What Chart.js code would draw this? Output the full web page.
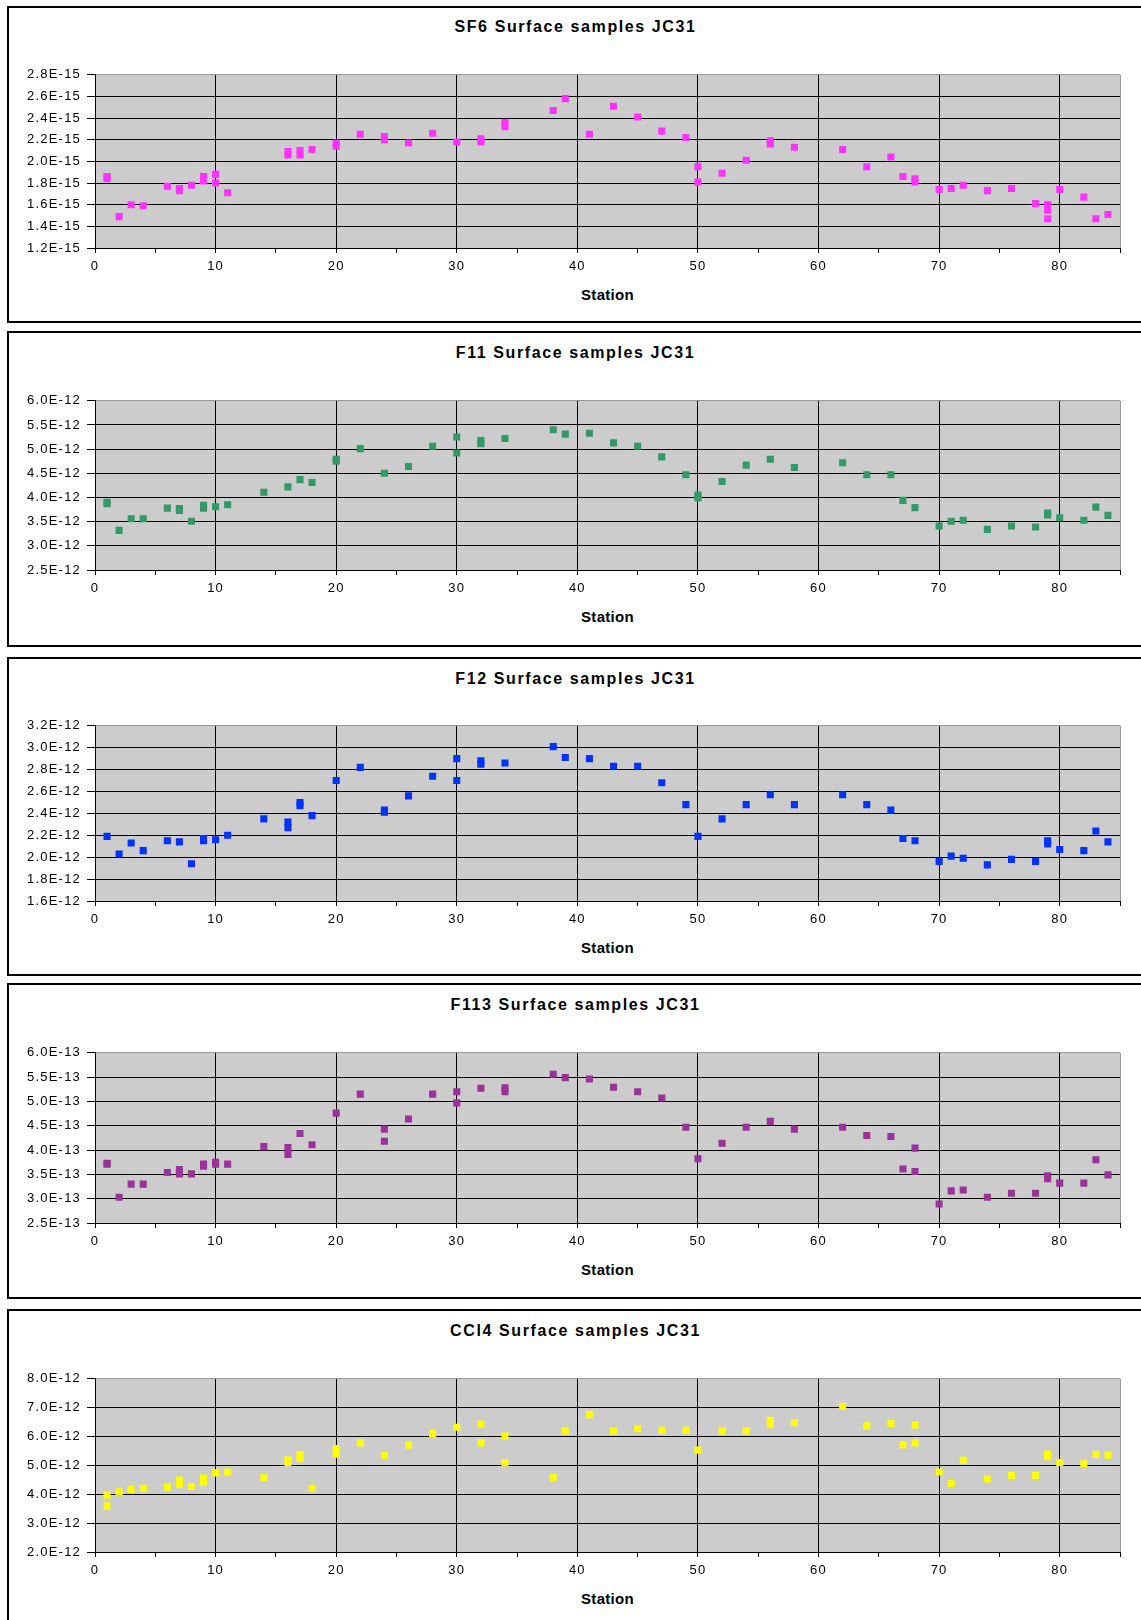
<!DOCTYPE html>
<html>
<head>
<meta charset="utf-8">
<script src="https://cdn.jsdelivr.net/npm/chart.js@4.4.1/dist/chart.umd.min.js"></script>
<style>
  html, body { margin: 0; padding: 0; background: #fff; }
  body { width: 1141px; height: 1620px; position: relative; overflow: hidden; font-family: "Liberation Sans", Arial, sans-serif; }
  .panel { position: absolute; left: 7px; width: 1200px; border: 2px solid #000; box-sizing: border-box; }
  .title { position: absolute; left: 0; width: 1151px; text-align: center; font-weight: bold; font-size: 16px; line-height: 18px; letter-spacing: 1.6px; color: #000; }
  .xlabel { position: absolute; left: 95px; width: 1025px; text-align: center; font-weight: bold; font-size: 15px; line-height: 18px; letter-spacing: 0.3px; color: #000; }
  canvas { position: absolute; left: 0; }
</style>
</head>
<body>
<script>
// ================= DATA =================
// x = station number, y = mantissa (unit shown in the axis suffix)
const sf6Stations = [1,1,2,3,4,6,7,7,8,9,9,10,10,11,16,16,17,17,18,20,20,22,24,24,26,28,30,32,32,34,34,38,39,
  41,43,45,47,49,50,50,52,54,56,56,58,62,64,66,67,68,68,70,71,72,74,76,78,79,79,79,80,82,83,84];
const sf6Values = [1.86,1.84,1.49,1.60,1.59,1.77,1.75,1.73,1.78,1.86,1.82,1.88,1.80,1.71,2.09,2.06,2.10,2.06,2.11,2.17,2.14,2.25,2.23,2.20,2.17,2.26,2.18,2.21,2.18,2.36,2.32,2.47,2.58,
  2.25,2.51,2.41,2.28,2.22,1.95,1.81,1.89,2.01,2.19,2.16,2.13,2.11,1.95,2.04,1.86,1.84,1.81,1.74,1.75,1.78,1.73,1.75,1.61,1.60,1.55,1.47,1.74,1.67,1.47,1.51];

const f11Stations = [1,1,2,3,4,6,7,7,8,9,9,10,11,14,16,17,18,20,20,22,24,26,28,30,30,32,32,34,38,39,
  41,43,45,47,49,50,50,52,54,56,58,62,64,66,67,68,70,71,72,74,76,78,79,79,80,82,83,84];
const f11Values = [3.90,3.87,3.32,3.56,3.56,3.78,3.77,3.73,3.51,3.84,3.78,3.81,3.85,4.11,4.22,4.37,4.31,4.79,4.75,5.01,4.50,4.64,5.06,5.25,4.92,5.18,5.11,5.22,5.40,5.31,
  5.33,5.13,5.06,4.84,4.47,4.05,3.99,4.33,4.67,4.79,4.62,4.72,4.47,4.47,3.94,3.79,3.41,3.51,3.53,3.34,3.41,3.39,3.68,3.64,3.58,3.53,3.80,3.63];

const f12Stations = [1,2,3,4,6,7,8,9,9,10,11,14,16,16,17,17,18,20,22,24,24,26,28,30,30,32,32,34,38,39,
  41,43,45,47,49,50,52,54,56,58,62,64,66,67,68,70,71,72,74,76,78,79,79,80,82,83,84];
const f12Values = [2.19,2.03,2.13,2.06,2.15,2.14,1.94,2.17,2.15,2.16,2.20,2.35,2.32,2.27,2.50,2.47,2.38,2.70,2.82,2.43,2.41,2.56,2.74,2.90,2.70,2.88,2.85,2.86,3.01,2.91,
  2.90,2.83,2.83,2.68,2.48,2.19,2.35,2.48,2.57,2.48,2.57,2.48,2.43,2.17,2.15,1.96,2.01,1.99,1.93,1.98,1.96,2.15,2.12,2.07,2.06,2.24,2.14];

const f113Stations = [1,1,2,3,4,6,7,7,8,9,9,10,10,11,14,16,16,17,18,20,22,24,24,26,28,30,30,32,34,34,38,39,
  41,43,45,47,49,50,52,54,56,58,62,64,66,67,68,68,70,71,72,74,76,78,79,79,80,82,83,84];
const f113Values = [3.73,3.71,3.03,3.30,3.30,3.54,3.60,3.51,3.51,3.71,3.67,3.75,3.71,3.71,4.07,4.05,3.91,4.34,4.11,4.76,5.15,4.43,4.18,4.64,5.15,5.20,4.97,5.27,5.28,5.20,5.56,5.49,
  5.46,5.29,5.20,5.07,4.47,3.82,4.14,4.47,4.59,4.43,4.47,4.30,4.28,3.61,4.04,3.56,2.89,3.16,3.18,3.03,3.11,3.11,3.47,3.41,3.32,3.32,3.80,3.49];

const ccl4Stations = [1,1,2,3,4,6,7,7,8,9,9,10,11,14,16,16,17,17,18,20,20,22,24,26,28,30,32,32,34,34,38,39,
  41,43,45,47,49,50,52,54,56,56,58,62,64,66,67,68,68,70,71,72,74,76,78,79,79,80,82,83,84];
const ccl4Values = [3.97,3.59,4.09,4.17,4.21,4.24,4.49,4.34,4.27,4.56,4.42,4.74,4.77,4.57,5.19,5.10,5.38,5.23,4.21,5.58,5.39,5.78,5.34,5.70,6.11,6.32,6.43,5.78,6.02,5.09,4.57,6.19,
  6.76,6.19,6.27,6.22,6.22,5.53,6.19,6.19,6.56,6.43,6.48,7.05,6.37,6.45,5.71,6.40,5.78,4.77,4.37,5.18,4.53,4.65,4.65,5.39,5.30,5.10,5.06,5.38,5.35];

const chartTitles = ['SF6 Surface samples JC31', 'F11 Surface samples JC31', 'F12 Surface samples JC31',
  'F113 Surface samples JC31', 'CCl4 Surface samples JC31'];
const yUnits = ['E-15', 'E-12', 'E-12', 'E-13', 'E-12'];
const yMins = [1.2, 2.5, 1.6, 2.5, 2.0];
const yMaxs = [2.8, 6.0, 3.2, 6.0, 8.0];
const ySteps = [0.2, 0.5, 0.2, 0.5, 1.0];
const xAxisTitle = 'Station';

// ================= LAYOUT =================
const panels = [
  { stations: sf6Stations, values: sf6Values, color: '#ff33ff', box: [6, 317], plotTop: 73, plotBottom: 248, titleY: 27 },
  { stations: f11Stations, values: f11Values, color: '#339966', box: [331, 316], plotTop: 399, plotBottom: 570, titleY: 353 },
  { stations: f12Stations, values: f12Values, color: '#0033ff', box: [657, 319], plotTop: 724, plotBottom: 901, titleY: 679 },
  { stations: f113Stations, values: f113Values, color: '#993399', box: [983, 316], plotTop: 1051, plotBottom: 1223, titleY: 1005 },
  { stations: ccl4Stations, values: ccl4Values, color: '#ffff00', box: [1309, 400], plotTop: 1377, plotBottom: 1552, titleY: 1331 }
];

const PLOT_LEFT = 95, PLOT_RIGHT = 1120, PAD_TOP = 12, AXIS_H = 40;

// grey plot background + Excel-like wide text spacing
const plotBg = {
  id: 'plotBg',
  beforeDraw(chart) {
    const { ctx, chartArea: a } = chart;
    ctx.save();
    ctx.fillStyle = '#cccccc';
    ctx.fillRect(a.left, a.top, a.right - a.left, a.bottom - a.top);
    ctx.restore();
    ctx.letterSpacing = '1.2px';
  }
};

panels.forEach((p, i) => {
  const box = document.createElement('div');
  box.className = 'panel';
  box.style.top = p.box[0] + 'px';
  box.style.height = p.box[1] + 'px';
  document.body.appendChild(box);

  const title = document.createElement('div');
  title.className = 'title';
  title.textContent = chartTitles[i];
  title.style.top = (p.titleY - 9) + 'px';
  document.body.appendChild(title);

  const xl = document.createElement('div');
  xl.className = 'xlabel';
  xl.textContent = xAxisTitle;
  xl.style.top = (p.plotBottom + 47 - 9) + 'px';
  document.body.appendChild(xl);

  const plotH = p.plotBottom - p.plotTop;
  const canvas = document.createElement('canvas');
  canvas.width = 1141;
  canvas.height = plotH + PAD_TOP + AXIS_H;
  canvas.style.top = (p.plotTop - PAD_TOP) + 'px';
  document.body.appendChild(canvas);

  const ymin = yMins[i], ymax = yMaxs[i], unit = yUnits[i];
  new Chart(canvas.getContext('2d'), {
    type: 'scatter',
    data: {
      datasets: [{
        data: p.stations.map((s, k) => ({ x: s, y: p.values[k] })),
        pointStyle: 'rect',
        pointRadius: 5,
        pointBorderWidth: 0,
        backgroundColor: p.color,
        borderColor: p.color
      }]
    },
    options: {
      responsive: false,
      animation: false,
      events: [],
      layout: { padding: { top: PAD_TOP, left: 0, right: 1141 - PLOT_RIGHT, bottom: 0 } },
      plugins: { legend: { display: false }, tooltip: { enabled: false } },
      scales: {
        x: {
          type: 'linear', min: 0, max: 85,
          afterFit(s) { s.height = AXIS_H; },
          border: { color: '#000', width: 1 },
          grid: {
            lineWidth: 1, tickLength: 5, tickColor: '#000',
            color: c => c.tick.value === 85 ? '#999999' : (c.tick.value % 10 === 0 ? '#000' : 'rgba(0,0,0,0)')
          },
          ticks: {
            stepSize: 5, autoSkip: false, maxRotation: 0, padding: 6, color: '#000',
            font: { family: 'Liberation Sans', size: 13 },
            callback: v => (v % 10 === 0 && v < 85) ? String(v) : ''
          }
        },
        y: {
          type: 'linear', min: ymin, max: ymax,
          afterFit(s) { s.width = PLOT_LEFT; },
          border: { color: '#000', width: 1 },
          grid: {
            lineWidth: 1, tickLength: 8, tickColor: '#000',
            color: c => Math.abs(c.tick.value - ymax) < 1e-9 ? '#999999' : '#000'
          },
          ticks: {
            stepSize: ySteps[i], padding: 6, color: '#000',
            font: { family: 'Liberation Sans', size: 13 },
            callback: v => v.toFixed(1) + unit
          }
        }
      }
    },
    plugins: [plotBg]
  });
});
</script>
</body>
</html>
